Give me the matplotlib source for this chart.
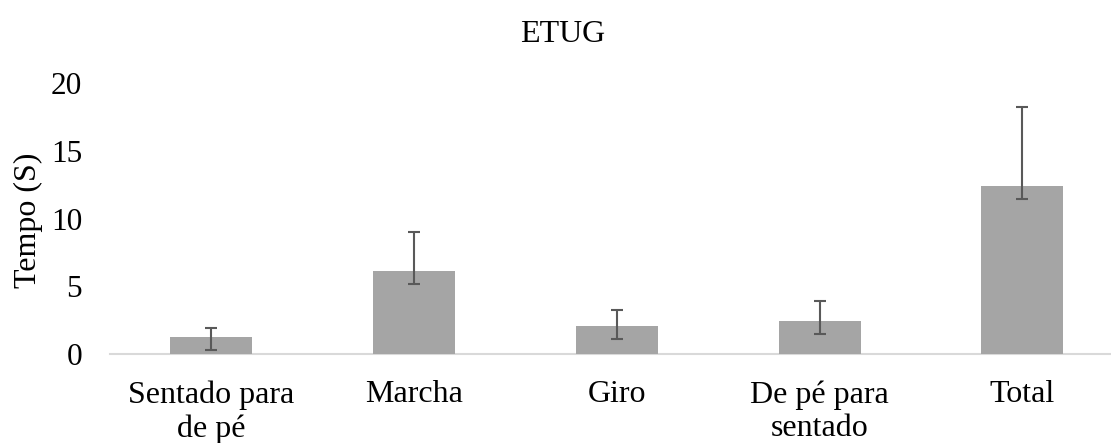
import numpy as np
import matplotlib.pyplot as plt

plt.rcParams['font.family'] = ['Liberation Serif', 'DejaVu Serif']

# dados do gráfico
categorias = ['Sentado para\nde pé', 'Marcha', 'Giro', 'De pé para\nsentado', 'Total']
tempos = [1.28, 6.16, 2.09, 2.46, 12.44]
erro_inf = [1.0, 1.0, 1.0, 1.0, 1.0]
erro_sup = [0.67, 2.83, 1.19, 1.48, 5.8]
yticks = [0, 5, 10, 15, 20]

titulo = 'ETUG'
yAxis = 'Tempo (S)'

fig = plt.figure(figsize=(11.11, 4.43), dpi=100)
ax = fig.add_axes([110 / 1111, 89 / 443, 1 - 110 / 1111, 270.7 / 443])

x = np.arange(len(categorias))
ax.bar(x, tempos, width=0.405, color='#a5a5a5', zorder=2)
# barras de erro assimetricas
ax.errorbar(x, tempos, yerr=[erro_inf, erro_sup], fmt='none', ecolor='#595959',
            elinewidth=1.5, capsize=4.3, capthick=1.5, zorder=3)

ax.set_xlim(-0.5, 4.437)
ax.set_ylim(0, 20)
ax.set_yticks(yticks)
ax.set_xticks(x)
ax.set_xticklabels(categorias, fontsize=23, linespacing=1.2)
ax.tick_params(axis='y', length=0, pad=20, labelsize=22.5)
ax.tick_params(axis='x', length=0, pad=19)

for s in ['top', 'right', 'left']:
    ax.spines[s].set_visible(False)
ax.spines['bottom'].set_color('#d9d9d9')
ax.spines['bottom'].set_linewidth(1.5)
ax.spines['bottom'].set_zorder(1)

fig.text(563 / 1111, 1 - 42 / 443, titulo, fontsize=23, ha='center', va='baseline')
fig.text(28 / 1111, 1 - 220 / 443, yAxis, fontsize=23, rotation=90, ha='center', va='center')

fig.savefig('out.png', dpi=100)
